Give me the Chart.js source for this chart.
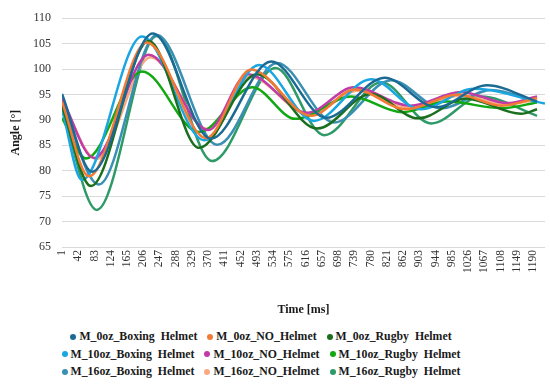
<!DOCTYPE html>
<html>
<head>
<meta charset="utf-8">
<script src="https://cdn.jsdelivr.net/npm/chart.js@4/dist/chart.umd.min.js"></script>
<style>
  body { margin: 0; background: #fff; }
  #wrap { width: 550px; height: 384px; position: relative; }
  #box { width: 550px; height: 320px; }
  #legend { width: 550px; padding: 8px 28px 0 0; box-sizing: border-box; font: bold 11.8px "Liberation Serif", "DejaVu Serif", serif; color: #1a1a1a; }
  .row { display: flex; justify-content: center; height: 17.5px; align-items: center; }
  .item { display: flex; align-items: center; margin: 0 5px; white-space: pre; }
  .dot { width: 6px; height: 6px; border-radius: 50%; margin-right: 3px; }
</style>
</head>
<body>
<div id="wrap">
  <div id="box"><canvas id="c"></canvas></div>
  <div id="legend"></div>
</div>
<script>
// tick labels of the time axis
const timeTicks = [1, 42, 83, 124, 165, 206, 247, 288, 329, 370, 411, 452, 493, 534, 575, 616, 657, 698, 739, 780, 821, 862, 903, 944, 985, 1026, 1067, 1108, 1149, 1190];

// each series: times [ms] at turning points and angles [°]
const boxing0T = [1, 77, 230, 377, 529, 668, 815, 945, 1074, 1200];
const boxing0V = [95.1, 79.8, 107.0, 86.3, 101.5, 90.4, 98.3, 92.5, 96.8, 93.6];

const no0T = [1, 69, 215, 365, 478, 630, 740, 870, 1000, 1110, 1200];
const no0V = [93.6, 78.9, 105.2, 86.4, 99.9, 90.8, 96.0, 92.1, 95.0, 92.8, 94.3];

const rugby0T = [1, 74, 220, 347, 493, 645, 781, 900, 1020, 1160, 1200];
const rugby0V = [92.7, 77.0, 105.5, 84.5, 99.0, 88.3, 95.1, 90.3, 94.2, 91.2, 92.1];

const boxing10T = [1, 51, 203, 360, 498, 637, 781, 905, 1041, 1220];
const boxing10V = [92.2, 78.2, 106.4, 86.0, 100.8, 89.8, 98.0, 92.1, 96.1, 93.2];

const no10T = [1, 82, 220, 370, 470, 620, 738, 880, 1008, 1125, 1200];
const no10V = [94.2, 82.5, 102.8, 88.0, 99.0, 91.4, 96.4, 92.8, 95.5, 93.3, 94.6];

const rugby10T = [1, 62, 203, 347, 481, 590, 731, 860, 973, 1110, 1200];
const rugby10V = [90.4, 82.4, 99.5, 87.6, 96.4, 90.2, 94.6, 91.5, 93.6, 92.3, 93.4];

const boxing16T = [1, 94, 240, 393, 544, 688, 832, 960, 1084, 1200];
const boxing16V = [93.3, 77.3, 106.7, 85.1, 101.2, 89.5, 97.8, 92.3, 95.9, 93.5];

const no16T = [1, 87, 225, 368, 475, 625, 750, 878, 1010, 1120, 1200];
const no16V = [93.8, 82.3, 102.3, 88.2, 98.5, 91.0, 95.8, 92.5, 94.8, 93.0, 94.0];

const rugby16T = [1, 89, 240, 380, 540, 663, 807, 933, 1059, 1200];
const rugby16V = [92.0, 72.3, 106.5, 81.9, 100.2, 87.0, 97.4, 89.3, 94.6, 90.8];

const series = [
  ['M_0oz_Boxing  Helmet', boxing0T, boxing0V, '#1b6a94'],
  ['M_0oz_NO_Helmet', no0T, no0V, '#f37a34'],
  ['M_0oz_Rugby  Helmet', rugby0T, rugby0V, '#1a6e1e'],
  ['M_10oz_Boxing  Helmet', boxing10T, boxing10V, '#1aa6e0'],
  ['M_10oz_NO_Helmet', no10T, no10V, '#c13ba8'],
  ['M_10oz_Rugby  Helmet', rugby10T, rugby10V, '#12a812'],
  ['M_16oz_Boxing  Helmet', boxing16T, boxing16V, '#3a8fb3'],
  ['M_16oz_NO_Helmet', no16T, no16V, '#f9a982'],
  ['M_16oz_Rugby  Helmet', rugby16T, rugby16V, '#2e9a68']
];

const datasets = series.map(s => ({
  label: s[0],
  data: s[1].map((t, i) => ({ x: t, y: s[2][i] })),
  borderColor: s[3],
  backgroundColor: s[3],
  borderWidth: 2.5,
  pointRadius: 0,
  cubicInterpolationMode: 'monotone',
  fill: false
}));

const serif = "'Liberation Serif', 'DejaVu Serif', serif";

new Chart(document.getElementById('c'), {
  type: 'line',
  data: { datasets },
  options: {
    responsive: true,
    maintainAspectRatio: false,
    animation: false,
    layout: { padding: { left: 9, right: 5, top: 8, bottom: 3 } },
    plugins: { legend: { display: false }, tooltip: { enabled: false } },
    scales: {
      x: {
        type: 'linear',
        min: 1,
        max: 1220,
        afterBuildTicks: ax => { ax.ticks = timeTicks.map(v => ({ value: v })); },
        afterFit: ax => { ax.height = 70; },
        grid: { display: false, drawTicks: false },
        border: { display: false },
        ticks: { autoSkip: false, minRotation: 90, maxRotation: 90, padding: 3, color: '#333', font: { family: serif, size: 11.5 }, callback: v => String(v) },
        title: { display: true, text: 'Time [ms]', color: '#1a1a1a', padding: 0, font: { family: serif, size: 12, weight: 'bold' } }
      },
      y: {
        min: 65,
        max: 110,
        afterFit: ax => { ax.width = 53; },
        ticks: { stepSize: 5, padding: 11, color: '#333', font: { family: serif, size: 12 } },
        grid: { color: '#d9d9d9', drawTicks: false },
        border: { display: false },
        title: { display: true, text: 'Angle [°]', color: '#1a1a1a', padding: 0, font: { family: serif, size: 12, weight: 'bold' } }
      }
    }
  }
});

// legend, three per row like the original
const legend = document.getElementById('legend');
for (let r = 0; r < 3; r++) {
  const row = document.createElement('div');
  row.className = 'row';
  series.slice(r * 3, r * 3 + 3).forEach(s => {
    const it = document.createElement('div');
    it.className = 'item';
    it.innerHTML = `<span class="dot" style="background:${s[3]}"></span>`;
    it.appendChild(document.createTextNode(s[0]));
    row.appendChild(it);
  });
  legend.appendChild(row);
}
</script>
</body>
</html>
